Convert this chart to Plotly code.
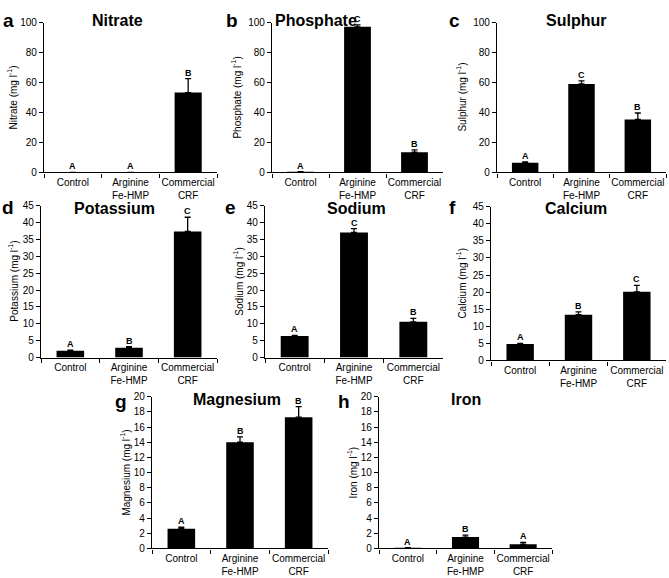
import plotly.graph_objects as go

W, H = 669, 578

categories = ["Control", "Arginine<br>Fe-HMP", "Commercial<br>CRF"]

panel_letters = ["a", "b", "c", "d", "e", "f", "g", "h"]
nutrients = ["Nitrate", "Phosphate", "Sulphur", "Potassium", "Sodium", "Calcium", "Magnesium", "Iron"]

nitrate = [0.0, 0.0, 53.3]
nitrate_err = [0.0, 0.0, 9.3]
nitrate_sig = ["A", "A", "B"]

phosphate = [0.3, 97.2, 13.5]
phosphate_err = [0.2, 1.3, 1.6]
phosphate_sig = ["A", "C", "B"]

sulphur = [6.5, 59.1, 35.4]
sulphur_err = [0.6, 2.0, 4.3]
sulphur_sig = ["A", "C", "B"]

potassium = [2.0, 2.9, 37.4]
potassium_err = [0.2, 0.3, 4.2]
potassium_sig = ["A", "B", "C"]

sodium = [6.4, 37.1, 10.6]
sodium_err = [0.2, 1.1, 1.0]
sodium_sig = ["A", "C", "B"]

calcium = [4.8, 13.4, 20.1]
calcium_err = [0.2, 0.8, 1.9]
calcium_sig = ["A", "B", "C"]

magnesium = [2.6, 14.0, 17.3]
magnesium_err = [0.2, 0.7, 1.4]
magnesium_sig = ["A", "B", "B"]

iron = [0.09, 1.5, 0.56]
iron_err = [0.03, 0.25, 0.25]
iron_sig = ["A", "B", "A"]

values = [nitrate, phosphate, sulphur, potassium, sodium, calcium, magnesium, iron]
errors = [nitrate_err, phosphate_err, sulphur_err, potassium_err, sodium_err, calcium_err, magnesium_err, iron_err]
sigs = [nitrate_sig, phosphate_sig, sulphur_sig, potassium_sig, sodium_sig, calcium_sig, magnesium_sig, iron_sig]

y_max = [100, 100, 100, 45, 45, 45, 20, 20]
y_dtick = [20, 20, 20, 5, 5, 5, 2, 2]

# layout (pixel boxes: x0, x1, ytop, ybottom)
boxes = [
    (44, 217, 17, 170), (272, 443, 17, 170), (497, 666, 17, 170),
    (41, 217, 204, 359), (265, 443, 204, 359), (491, 666, 205, 362),
    (152, 328, 399, 554), (379, 552, 399, 554),
]
title_pos = [(117, 15), (316, 15), (576, 15), (115, 207), (356, 207), (576, 207), (237, 402), (466, 402)]
letter_pos = [(1, 2), (224, 2), (447, 2), (0, 193), (223, 193), (447, 193), (113, 391), (336, 391)]
ytitle_x = [12, 236, 461, 13, 238, 461, 125, 352]

FONT = "Liberation Sans, Arial, sans-serif"

fig = go.Figure()
annotations = []
layout_axes = {}

for i in range(8):
    n = i + 1
    xa = "x" if n == 1 else f"x{n}"
    ya = "y" if n == 1 else f"y{n}"
    x0, x1, yt, yb = boxes[i]
    fig.add_trace(go.Bar(
        x=categories, y=values[i], xaxis=xa, yaxis=ya,
        marker=dict(color="black", line=dict(width=0)),
        width=0.47,
        error_y=dict(type="data", symmetric=False, array=errors[i],
                     arrayminus=[0, 0, 0], color="black", thickness=1.3, width=3),
        showlegend=False,
    ))
    axkw = dict(showline=True, linecolor="black", linewidth=1.3, mirror=False,
                ticks="outside", ticklen=4, tickwidth=1.2, tickcolor="black",
                showgrid=False, zeroline=False, tickangle=0,
                tickfont=dict(family=FONT, size=10, color="black"))
    layout_axes[f"xaxis{'' if n == 1 else n}"] = dict(
        domain=[x0 / W, x1 / W], anchor=ya, type="category",
        range=[-0.5, 2.5], tickson="boundaries", **axkw)
    layout_axes[f"yaxis{'' if n == 1 else n}"] = dict(
        domain=[1 - yb / H, 1 - yt / H], anchor=xa,
        range=[0, y_max[i]], dtick=y_dtick[i], tick0=0, **axkw)

    # title
    tx, ty = title_pos[i]
    annotations.append(dict(text=f"<b>{nutrients[i]}</b>", x=tx / W, y=1 - ty / H,
                            xref="paper", yref="paper", showarrow=False,
                            xanchor="center", yanchor="middle",
                            font=dict(family=FONT, size=16, color="black")))
    # panel letter
    lx, ly = letter_pos[i]
    annotations.append(dict(text=f"<b>{panel_letters[i]}</b>", x=lx / W, y=1 - ly / H,
                            xref="paper", yref="paper", showarrow=False,
                            xanchor="left", yanchor="top",
                            font=dict(family=FONT, size=19, color="black")))
    # y title
    annotations.append(dict(text=f"{nutrients[i]} (mg l<sup>-1</sup>)", x=ytitle_x[i] / W,
                            y=1 - ((yt + yb) / 2) / H, xref="paper", yref="paper",
                            showarrow=False, textangle=-90, xanchor="center", yanchor="middle",
                            font=dict(family=FONT, size=10, color="black")))
    # significance letters
    for j in range(3):
        annotations.append(dict(text=f"<b>{sigs[i][j]}</b>", x=categories[j],
                                y=values[i][j] + errors[i][j], xref=xa, yref=ya,
                                showarrow=False, xanchor="center", yanchor="bottom",
                                yshift=-1,
                                font=dict(family=FONT, size=9, color="black")))

fig.update_layout(
    width=W, height=H, margin=dict(l=0, r=0, t=0, b=0),
    paper_bgcolor="white", plot_bgcolor="white",
    annotations=annotations, bargap=0.5, **layout_axes,
)

fig.write_html("out.html")
